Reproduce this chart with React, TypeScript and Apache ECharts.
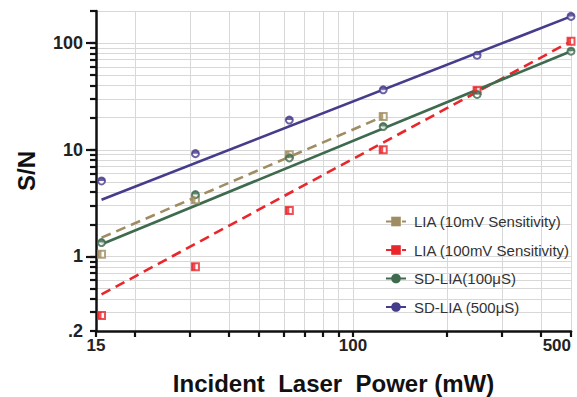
import React, { useEffect, useRef } from 'react';
import * as echarts from 'echarts';

// x values: incident laser power (mW)
const power = [15.625, 31.25, 62.5, 125, 250, 500];
// measured S/N points
const lia10 = [1.05, 3.4, 9.0, 20.5];
const lia100 = [0.28, 0.8, 2.7, 10, 36, 104];
const sd100 = [1.35, 3.8, 8.4, 16.5, 33, 84];
const sd500 = [5.1, 9.2, 19, 36.5, 77, 178];
// fitted lines (end points)
const fitX = [15.625, 500];
const lia10FitX = [15.625, 125];
const lia10Fit = [1.5, 20.5];
const lia100Fit = [0.44, 104];
const sd100Fit = [1.3, 84];
const sd500Fit = [3.4, 178];
// axis ticks
const xTicks = [15, 20, 30, 40, 50, 60, 70, 80, 90, 100, 200, 300, 400, 500];
const xLabels = [15, 100, 500];
const yTicks = [0.2, 0.3, 0.4, 0.5, 0.6, 0.7, 0.8, 0.9, 1, 2, 3, 4, 5, 6, 7, 8, 9, 10, 20, 30, 40, 50, 60, 70, 80, 90, 100, 200];
const yMajor = [1, 10, 100];
const yLabels = [0.2, 1, 10, 100];
const seriesNames = ['LIA (10mV Sensitivity)', 'LIA (100mV Sensitivity)', 'SD-LIA(100\u03bcS)', 'SD-LIA (500\u03bcS)'];
const colors = ['#a08c62', '#e8262b', '#3e6a4e', '#463c8c'];

const zip = (xs: number[], ys: number[]) => ys.map((y, i) => [xs[i], y]);

export default function App() {
  const ref = useRef<HTMLDivElement>(null);
  useEffect(() => {
    if (!ref.current) return;
    const chart = echarts.init(ref.current, null, { renderer: 'svg' });
    const pts = [lia10, lia100, sd100, sd500];
    const fits = [
      zip(lia10FitX, lia10Fit),
      zip(fitX, lia100Fit),
      zip(fitX, sd100Fit),
      zip(fitX, sd500Fit),
    ];
    const isSquare = [true, true, false, false];
    const dashed = [true, true, false, false];
    const series: any[] = [];
    for (let i = 0; i < 4; i++) {
      series.push({
        name: seriesNames[i],
        type: 'line',
        data: fits[i],
        showSymbol: false,
        symbol: isSquare[i] ? 'rect' : 'circle',
        symbolSize: 8,
        clip: false,
        z: 2,
        itemStyle: { color: colors[i] },
        lineStyle: { color: colors[i], width: 2.6, type: dashed[i] ? [10, 6] : 'solid' },
      });
      series.push({
        name: seriesNames[i] + ' pts',
        type: 'scatter',
        data: zip(power, pts[i]),
        symbol: isSquare[i] ? 'emptyRect' : 'emptyCircle',
        symbolSize: 7,
        clip: false,
        z: 3,
        itemStyle: { color: colors[i], borderWidth: 1.2 },
      });
      series.push({
        name: seriesNames[i] + ' half',
        type: 'scatter',
        data: zip(power, pts[i]),
        symbol: isSquare[i] ? 'rect' : 'path://M0,10 A10,10 0 0 1 20,10 Z',
        symbolSize: isSquare[i] ? [3.5, 7] : [7, 3.5],
        symbolOffset: isSquare[i] ? [-1.75, 0] : [0, -1.75],
        clip: false,
        z: 4,
        itemStyle: { color: colors[i] },
      });
    }
    const labelFmt = (v: number) => {
      if (Math.abs(v - 0.2) < 1e-6) return '.2';
      return String(Math.round(v));
    };
    chart.setOption({
      animation: false,
      backgroundColor: '#ffffff',
      grid: { left: 96, right: 6, top: 11, bottom: 66, outerBoundsMode: 'none', containLabel: false },
      legend: {
        data: seriesNames,
        orient: 'vertical',
        left: 380,
        top: 209,
        itemWidth: 20,
        itemHeight: 12,
        itemGap: 13.5,
        textStyle: { fontFamily: 'Liberation Sans', fontSize: 15, color: '#333', padding: [0, 0, 0, 3] },
      },
      xAxis: {
        type: 'log',
        logBase: 10,
        min: 15,
        max: 500,
        name: 'Incident  Laser  Power (mW)',
        nameLocation: 'middle',
        nameGap: 40,
        nameTextStyle: { fontFamily: 'Liberation Sans', fontWeight: 'bold', fontSize: 24, color: '#111' },
        axisLine: { lineStyle: { color: '#111', width: 2.5 } },
        axisTick: { show: true, customValues: xTicks, length: 6, lineStyle: { color: '#111', width: 2.2 } },
        axisLabel: {
          customValues: xLabels,
          formatter: labelFmt,
          margin: 6,
          alignMaxLabel: 'right',
          fontFamily: 'Liberation Sans',
          fontWeight: 'bold',
          fontSize: 17,
          color: '#222',
        },
        splitLine: { show: true, lineStyle: { color: '#d8d8d8', width: 1 } },
      },
      yAxis: [
        {
          type: 'log',
          logBase: 10,
          min: 0.2,
          max: 200,
          position: 'left',
          name: 'S/N',
          nameLocation: 'middle',
          nameGap: 58,
          nameTextStyle: { fontFamily: 'Liberation Sans', fontWeight: 'bold', fontSize: 24, color: '#111' },
          axisLine: { show: true, lineStyle: { color: '#111', width: 2.5 } },
          axisTick: { show: true, customValues: yTicks, length: 6, lineStyle: { color: '#111', width: 2.2 } },
          axisLabel: {
            customValues: yLabels,
            formatter: labelFmt,
            margin: 13,
            fontFamily: 'Liberation Sans',
            fontWeight: 'bold',
            fontSize: 18,
            color: '#222',
          },
          splitLine: { show: true, lineStyle: { color: '#d8d8d8', width: 1 } },
        },
        {
          type: 'log',
          logBase: 10,
          min: 0.2,
          max: 200,
          position: 'left',
          offset: 0,
          axisLine: { show: false },
          axisTick: { show: true, customValues: yMajor, length: 10, lineStyle: { color: '#111', width: 2.2 } },
          axisLabel: { show: false },
          splitLine: { show: false },
        },
      ],
      series,
    });
    return () => chart.dispose();
  }, []);
  return <div ref={ref} style={{ position: 'fixed', left: 0, top: 0, width: 577, height: 397 }} />;
}
